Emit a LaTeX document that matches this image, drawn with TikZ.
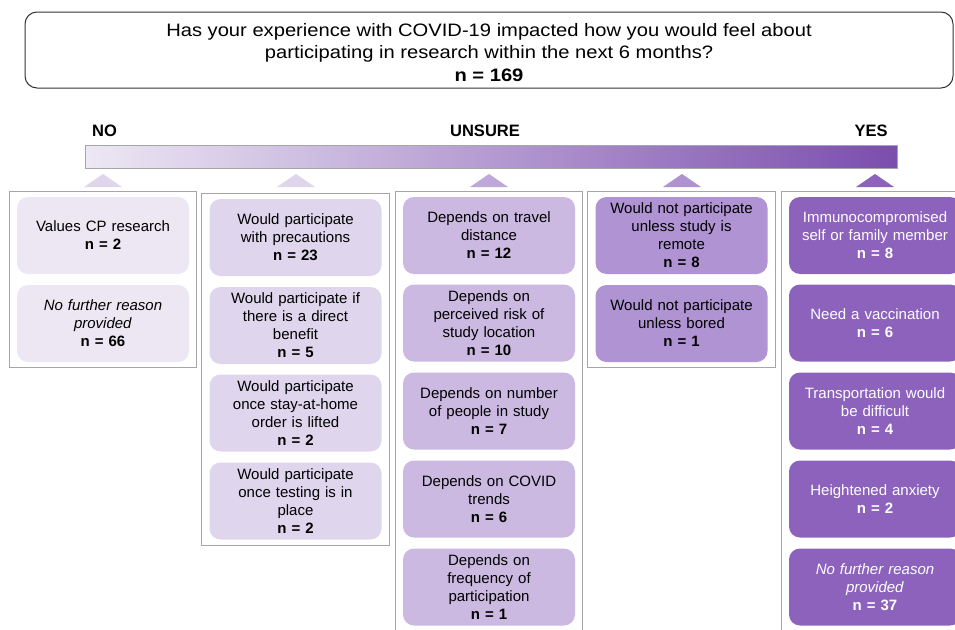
\documentclass[tikz,border=0pt]{standalone}
\usepackage{fontspec}
\setmainfont{Liberation Sans}
\newfontfamily\titlefont[FakeStretch=1.12]{Liberation Sans}
\usetikzlibrary{positioning, fit}

\definecolor{frameg}{HTML}{A6A6A6}
\definecolor{pno}{HTML}{EDE7F4}
\definecolor{pleft}{HTML}{DFD5EC}
\definecolor{pmid}{HTML}{CBB9E1}
\definecolor{pright}{HTML}{AF93D2}
\definecolor{pyes}{HTML}{8C62BC}
\definecolor{tria}{HTML}{E0D6EC}
\definecolor{trib}{HTML}{BEA8DA}
\definecolor{tric}{HTML}{AE92D2}
\definecolor{trid}{HTML}{8C62BC}
\definecolor{barl}{HTML}{EDE8F4}
\definecolor{barm}{HTML}{CDBDE2}
\definecolor{barr}{HTML}{7B4DAE}

\tikzset{
    reason/.style={rounded corners=11pt, minimum width=172pt, minimum height=77pt,
        text width=166pt, align=center, inner sep=0pt,
        font=\fontsize{15}{18}\selectfont},
    group/.style={draw=frameg, line width=1pt, inner xsep=7.5pt, inner ysep=5.5pt},
    endlabel/.style={font=\fontsize{16.5}{18}\selectfont\bfseries}
}

\begin{document}
\begin{tikzpicture}[x=1pt, y=-1pt]
    \useasboundingbox (0,0) rectangle (955,629);
    \clip (0,0) rectangle (955,629);

    % question
    \node[draw=black!80, line width=1pt, rounded corners=12pt, minimum width=928pt,
        minimum height=76pt] (question) at (489,50) {};
    \node[align=center, inner sep=0pt, font=\titlefont\fontsize{18}{22.5}\selectfont]
        (questiontext) at (489,52.5)
        {Has your experience with COVID-19 impacted how you would feel about\\
         participating in research within the next 6 months?\\
         \textbf{n = 169}};

    % scale
    \node[endlabel] (no) at (104.5,131) {NO};
    \node[endlabel] (unsure) at (485,131) {UNSURE};
    \node[endlabel] (yes) at (871,131) {YES};
    \node[draw=frameg, left color=barl, middle color=barm, right color=barr,
        minimum width=812pt, minimum height=23pt, inner sep=0pt] (bar) at (491,156.5) {};

    \foreach \x/\c in {103/tria, 296/tria, 489/trib, 682/tric, 875/trid}
        \fill[\c] (\x-19,187) -- (\x,174) -- (\x+19,187) -- cycle;

    % no
    \node[reason, fill=pno] (no1) at (103,235.5) {Values CP research\\\textbf{n = 2}};
    \node[reason, fill=pno] (no2) at (103,323.5) {\textit{No further reason}\\\textit{provided}\\\textbf{n = 66}};

    % leaning no
    \node[reason, fill=pleft] (left1) at (295.5,237.5) {Would participate\\with precautions\\\textbf{n = 23}};
    \node[reason, fill=pleft] (left2) at (295.5,325.5) {Would participate if\\there is a direct\\benefit\\\textbf{n = 5}};
    \node[reason, fill=pleft] (left3) at (295.5,413) {Would participate\\once stay-at-home\\order is lifted\\\textbf{n = 2}};
    \node[reason, fill=pleft] (left4) at (295.5,501) {Would participate\\once testing is in\\place\\\textbf{n = 2}};

    % unsure
    \node[reason, fill=pmid] (mid1) at (489,235.5) {Depends on travel\\distance\\\textbf{n = 12}};
    \node[reason, fill=pmid] (mid2) at (489,323) {Depends on\\perceived risk of\\study location\\\textbf{n = 10}};
    \node[reason, fill=pmid] (mid3) at (489,411) {Depends on number\\of people in study\\\textbf{n = 7}};
    \node[reason, fill=pmid] (mid4) at (489,499) {Depends on COVID\\trends\\\textbf{n = 6}};
    \node[reason, fill=pmid] (mid5) at (489,587) {Depends on\\frequency of\\participation\\\textbf{n = 1}};

    % leaning yes
    \node[reason, fill=pright] (right1) at (681.5,235.5) {Would not participate\\unless study is\\remote\\\textbf{n = 8}};
    \node[reason, fill=pright] (right2) at (681.5,323.5) {Would not participate\\unless bored\\\textbf{n = 1}};

    % yes
    \node[reason, fill=pyes, text=white] (yes1) at (875,235.5) {Immunocompromised\\self or family member\\\textbf{n = 8}};
    \node[reason, fill=pyes, text=white] (yes2) at (875,323) {Need a vaccination\\\textbf{n = 6}};
    \node[reason, fill=pyes, text=white] (yes3) at (875,411) {Transportation would\\be difficult\\\textbf{n = 4}};
    \node[reason, fill=pyes, text=white] (yes4) at (875,499) {Heightened anxiety\\\textbf{n = 2}};
    \node[reason, fill=pyes, text=white] (yes5) at (875,587) {\textit{No further reason}\\\textit{provided}\\\textbf{n = 37}};

    % frames
    \node[group, fit=(no1)(no2)] (nogroup) {};
    \node[group, fit=(left1)(left4)] (leftgroup) {};
    \node[group, fit=(mid1)(mid5)] (midgroup) {};
    \node[group, fit=(right1)(right2)] (rightgroup) {};
    \node[group, fit=(yes1)(yes5)] (yesgroup) {};
\end{tikzpicture}
\end{document}
